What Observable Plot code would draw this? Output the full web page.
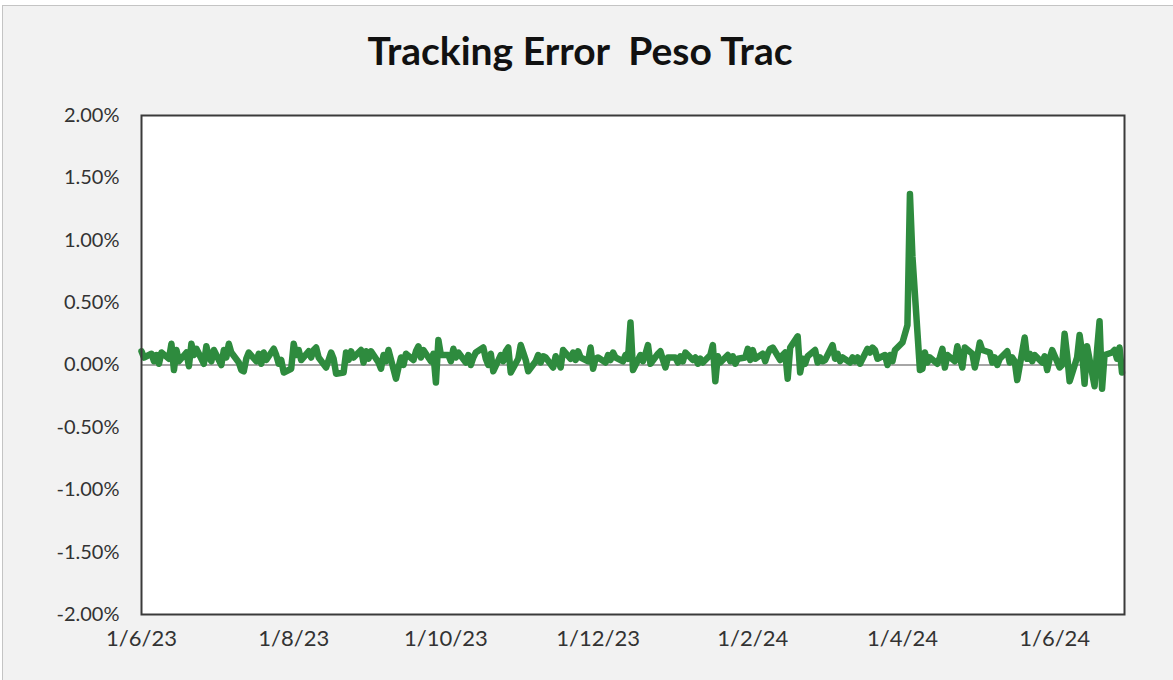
<!DOCTYPE html>
<html><head><meta charset="utf-8">
<script src="https://cdn.jsdelivr.net/npm/d3@7"></script>
<script src="https://cdn.jsdelivr.net/npm/@observablehq/plot@0.6"></script>
<style>
body{margin:0;background:#fff;width:1173px;height:680px;overflow:hidden;position:relative;font-family:Lato,sans-serif}
#bg{position:absolute;left:2px;top:5px;width:1200px;height:700px;background:#f2f2f2;border:1px solid #c4c4c4;box-sizing:border-box}
#title{position:absolute;top:27px;left:0;width:1160px;text-align:center;font:bold 39px Lato,sans-serif;color:#111;white-space:pre}
#chart{position:absolute;left:0;top:0}
</style></head><body>
<div id="bg"></div>
<div id="title">Tracking Error  Peso Trac</div>
<div id="chart"></div>
<script>
// Tracking error, in basis points (0.01%), one value per business day of each month
const jun23 = [11,6,9,3,8,1,10,5,17,-4,12,3,10,-1,17,8,13,1,15,6,3,12];
const jul23 = [0,12,6,17,10,2,-4,-5,5,10,3,9,1,10,4,13,8,1,4,-6,-3];
const aug23 = [17,8,12,4,11,6,12,14,6,-2,4,10,5,-7,-6,10,4,11,6,12,2,11,5];
const sep23 = [11,2,-3,8,3,12,-11,-2,6,0,9,4,11,15,6,12,3,9,-14,20,8];
const oct23 = [8,3,13,6,10,2,8,0,6,10,14,5,0,9,-5,8,3,11,14,-6,5,16];
const nov23 = [10,4,-5,3,8,2,7,6,-2,7,3,-2,12,5,10,4,11,6,3,14,-3,5];
const dec23 = [6,2,8,4,10,6,3,8,5,34,-4,8,3,9,16,1,9,11,4,-2,6];
const jan24 = [6,2,7,3,10,4,6,1,5,2,8,16,-13,7,2,8,3,7,1,5,6,13,4];
const feb24 = [12,5,9,3,9,13,14,4,8,10,-11,14,23,-6,5,1,7,12,2,6,3];
const mar24 = [4,16,5,9,3,6,2,6,3,6,1,13,10,14,12,5,8,0,8,3,12];
const apr24 = [18,25,32,137,87,-4,-3,10,2,6,1,6,13,-2,8,3,15,6,-2,14,9,-2];
const may24 = [7,18,12,10,2,6,0,5,11,2,6,3,-12,22,5,9,3,8,2,7,-4,5,12];
const jun24 = [-2,0,25,8,-13,6,24,10,-15,15,-17,12,35,-19,8,10,12,5,14,-6];

const months = [
  ["2023-06-01", jun23], ["2023-07-01", jul23], ["2023-08-01", aug23],
  ["2023-09-01", sep23], ["2023-10-01", oct23], ["2023-11-01", nov23],
  ["2023-12-01", dec23], ["2024-01-01", jan24], ["2024-02-01", feb24],
  ["2024-03-01", mar24], ["2024-04-01", apr24], ["2024-05-01", may24],
  ["2024-06-01", jun24]
];

const yTicks = [-2, -1.5, -1, -0.5, 0, 0.5, 1, 1.5, 2];
const xTickDates = ["2023-06-01","2023-08-01","2023-10-01","2023-12-01","2024-02-01","2024-04-01","2024-06-01"];
const xDomain = ["2023-06-01","2024-06-29"];

const data = [];
for (const [start, vals] of months) {
  const s = new Date(start);
  const e = d3.utcMonth.offset(s, 1);
  const days = d3.utcDays(s, e).filter(d => d.getUTCDay() !== 0 && d.getUTCDay() !== 6);
  vals.forEach((v, i) => { if (days[i]) data.push({date: days[i], value: v / 100}); });
}

const fmtDate = d => `${d.getUTCDate()}/${d.getUTCMonth() + 1}/${String(d.getUTCFullYear()).slice(2)}`;

const chart = Plot.plot({
  width: 1173,
  height: 680,
  marginLeft: 141,
  marginRight: 49,
  marginTop: 115,
  marginBottom: 66,
  style: {background: "transparent", fontFamily: "Lato, sans-serif", color: "#333"},
  x: {type: "utc", domain: xDomain.map(d => new Date(d))},
  y: {domain: [-2, 2]},
  marks: [
    Plot.frame({fill: "white"}),
    Plot.ruleY([0], {stroke: "#a6a6a6", strokeWidth: 2}),
    Plot.line(data, {x: "date", y: "value", stroke: "#2e8b3e", strokeWidth: 6.5, strokeLinejoin: "round"}),
    Plot.frame({stroke: "#3a3a3a", strokeWidth: 2}),
    Plot.axisY({ticks: yTicks, tickSize: 0, tickPadding: 22, tickFormat: d => d.toFixed(2) + "%", fontSize: 20, label: null}),
    Plot.axisX({ticks: xTickDates.map(d => new Date(d)), tickSize: 0, tickPadding: 16, tickFormat: fmtDate, fontSize: 22, label: null})
  ]
});
document.getElementById("chart").appendChild(chart);
</script>
</body></html>
